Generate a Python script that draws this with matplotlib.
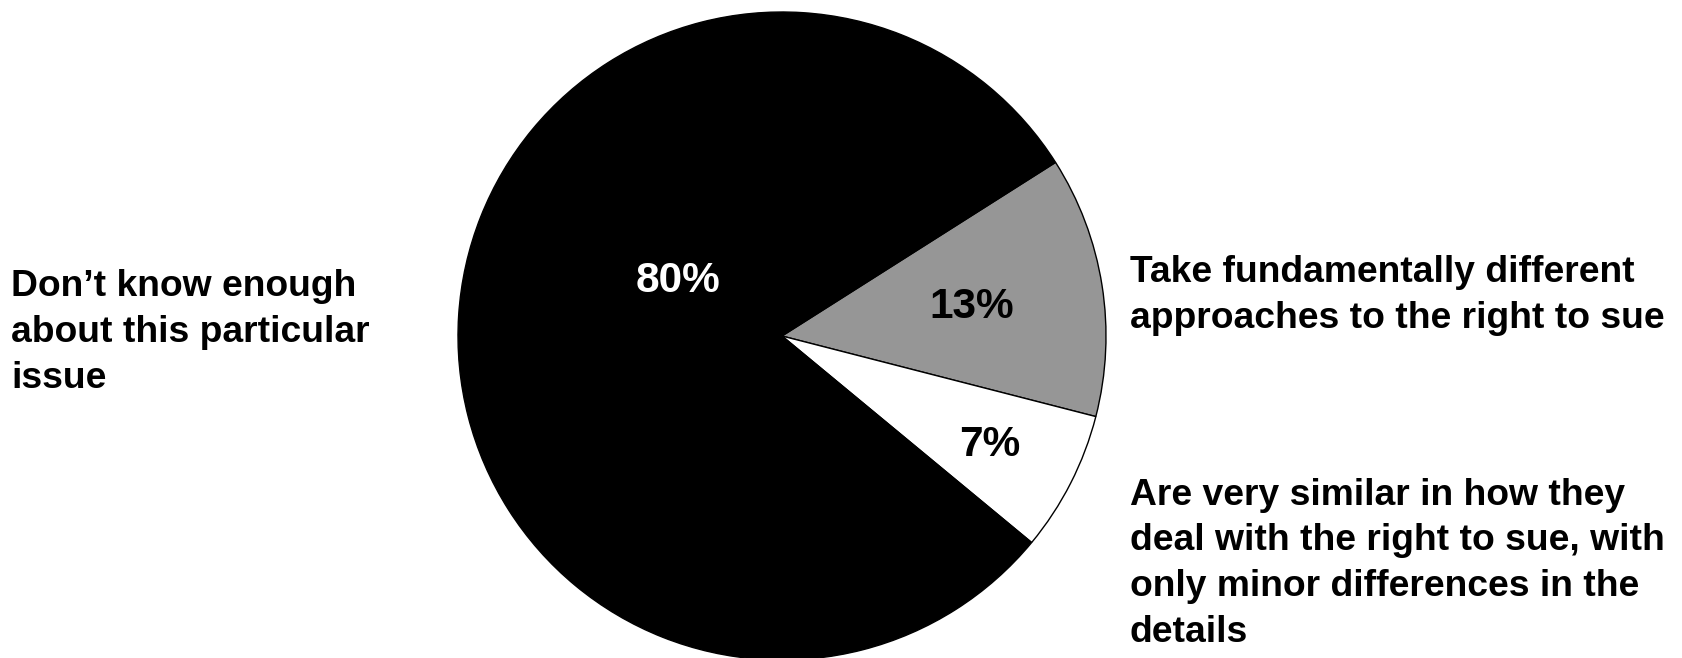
import matplotlib.pyplot as plt

plt.rcParams["font.family"] = ["Liberation Sans", "DejaVu Sans"]

W, H = 1683, 658

# data, clockwise from the top edge of the grey slice
labels = [
    "Take fundamentally different\napproaches to the right to sue",
    "Are very similar in how they\ndeal with the right to sue, with\nonly minor differences in the\ndetails",
    "Don\u2019t know enough\nabout this particular\nissue",
]
shares = [13, 7, 80]
colors = ["#969696", "#ffffff", "#000000"]
pct_colors = ["black", "black", "white"]


def fx(x):
    return x / W


def fy(y):
    return 1 - y / H


fig = plt.figure(figsize=(W / 100, H / 100), dpi=100)

cx, cy, r = 782, 336, 324
ax = fig.add_axes([fx(cx - r), fy(cy + r), 2 * r / W, 2 * r / H])
wedges, texts, autotexts = ax.pie(
    shares,
    colors=colors,
    startangle=32.4,
    counterclock=False,
    radius=1.0,
    autopct="%d%%",
    pctdistance=0.6,
    wedgeprops={"edgecolor": "black", "linewidth": 1.0},
    textprops={"fontsize": 30.5, "fontweight": "bold"},
)
for t, c in zip(autotexts, pct_colors):
    t.set_color(c)
# nudge the labels to where the original puts them
autotexts[0].set_position(((972 - cx) / r, (cy - 307) / r))
autotexts[1].set_position(((990 - cx) / r, (cy - 445) / r))
autotexts[2].set_position(((678 - cx) / r, (cy - 281) / r))
ax.set_xlim(-1, 1)
ax.set_ylim(-1, 1)
ax.set_axis_off()

# va="baseline" pins the last line's baseline
side = dict(fontsize=26.8, fontweight="bold", ha="left", va="baseline", linespacing=1.40)
fig.text(fx(1130), fy(328), labels[0], **side)
fig.text(fx(1130), fy(642), labels[1], **side)
fig.text(fx(11), fy(388), labels[2], **side)

fig.savefig("out.png", dpi=100)
